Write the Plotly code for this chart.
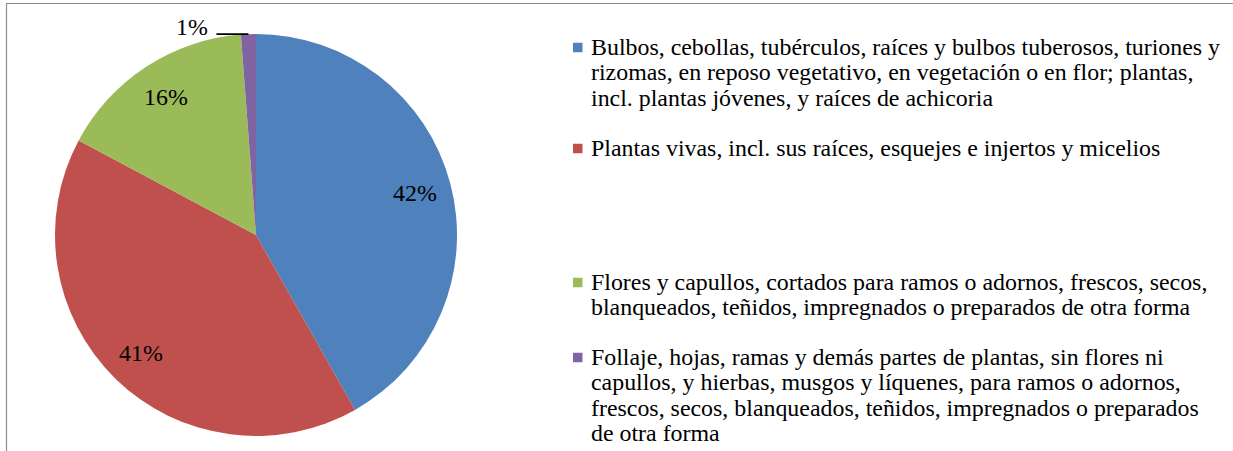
import math
import plotly.graph_objects as go

# ---- data ----
categories = [
    "Bulbos, cebollas, tubérculos, raíces y bulbos tuberosos, turiones y rizomas, en reposo vegetativo, en vegetación o en flor; plantas, incl. plantas jóvenes, y raíces de achicoria",
    "Plantas vivas, incl. sus raíces, esquejes e injertos y micelios",
    "Flores y capullos, cortados para ramos o adornos, frescos, secos, blanqueados, teñidos, impregnados o preparados de otra forma",
    "Follaje, hojas, ramas y demás partes de plantas, sin flores ni capullos, y hierbas, musgos y líquenes, para ramos o adornos, frescos, secos, blanqueados, teñidos, impregnados o preparados de otra forma",
]
values = [41.8, 41.0, 16.0, 1.2]
colors = ["#4F81BD", "#C0504D", "#9BBB59", "#8064A2"]

# legend line breaks (layout only)
legend_lines = [
    ["Bulbos, cebollas, tubérculos, raíces y bulbos tuberosos, turiones y",
     "rizomas, en reposo vegetativo, en vegetación o en flor; plantas,",
     "incl. plantas jóvenes, y raíces de achicoria"],
    ["Plantas vivas, incl. sus raíces, esquejes e injertos y micelios"],
    ["Flores y capullos, cortados para ramos o adornos, frescos, secos,",
     "blanqueados, teñidos, impregnados o preparados de otra forma"],
    ["Follaje, hojas, ramas y demás partes de plantas, sin flores ni",
     "capullos, y hierbas, musgos y líquenes, para ramos o adornos,",
     "frescos, secos, blanqueados, teñidos, impregnados o preparados",
     "de otra forma"],
]

# ---- layout constants (pixels) ----
W, H = 1233, 451
FONT = "Liberation Serif"
FS = 23.9
pie_left, pie_right, pie_top, pie_bottom = 55, 457, 34, 436
cx = (pie_left + pie_right) / 2
cy = (pie_top + pie_bottom) / 2
R = (pie_right - pie_left) / 2
label_frac = 0.82

legend_first_y = [46.5, 147.5, 281.5, 356.5]
line_gap = 25.6
legend_text_x = 590
sq_x0, sq_size = 573, 9.5


def px(x):
    return x / W


def py(y):
    return 1 - y / H


fig = go.Figure(go.Pie(
    labels=categories,
    values=values,
    sort=False,
    direction="clockwise",
    rotation=0,
    marker=dict(colors=colors, line=dict(width=0)),
    textinfo="none",
    hoverinfo="label+percent",
    showlegend=False,
    domain=dict(x=[px(pie_left), px(pie_right)], y=[py(pie_bottom), py(pie_top)]),
))

annotations = []
shapes = []

total = sum(values)
cum = 0.0
for i, v in enumerate(values):
    frac = v / total
    mid = (cum + frac / 2) * 2 * math.pi
    cum += frac
    pct = f"{round(frac * 100)}%"
    if frac > 0.05:
        lx = cx + label_frac * R * math.sin(mid)
        ly = cy - label_frac * R * math.cos(mid)
        annotations.append(dict(x=px(lx), y=py(ly), xref="paper", yref="paper",
                                text=pct, showarrow=False, xanchor="center", yanchor="middle",
                                font=dict(family=FONT, size=FS, color="black")))
    else:
        ex = cx + R * math.sin(mid)
        ey = cy - R * math.cos(mid)
        sx = ex - 32
        shapes.append(dict(type="line", xref="paper", yref="paper",
                           x0=px(sx), x1=px(ex), y0=py(ey), y1=py(ey),
                           line=dict(color="black", width=1.8)))
        annotations.append(dict(x=px(sx - 6), y=py(ey - 7), xref="paper", yref="paper",
                                text=pct, showarrow=False, xanchor="right", yanchor="middle",
                                font=dict(family=FONT, size=FS, color="black")))

# manual legend
for i, lines in enumerate(legend_lines):
    y0 = legend_first_y[i]
    shapes.append(dict(type="rect", xref="paper", yref="paper",
                       x0=px(sq_x0), x1=px(sq_x0 + sq_size),
                       y0=py(y0 - sq_size / 2 + 1), y1=py(y0 + sq_size / 2 + 1),
                       fillcolor=colors[i], line=dict(width=0)))
    for j, line in enumerate(lines):
        annotations.append(dict(x=px(legend_text_x), y=py(y0 + j * line_gap), xref="paper", yref="paper",
                                text=line, showarrow=False, xanchor="left", yanchor="middle",
                                align="left", borderpad=0,
                                font=dict(family=FONT, size=FS, color="black")))

# chart area border (top and left visible)
shapes.append(dict(type="line", xref="paper", yref="paper", x0=px(6), x1=1, y0=py(3.5), y1=py(3.5),
                   line=dict(color="#8C8C8C", width=1.2)))
shapes.append(dict(type="line", xref="paper", yref="paper", x0=px(6.5), x1=px(6.5), y0=py(3.5), y1=0,
                   line=dict(color="#8C8C8C", width=1.2)))

fig.update_layout(
    width=W, height=H,
    margin=dict(l=0, r=0, t=0, b=0),
    paper_bgcolor="white",
    plot_bgcolor="white",
    annotations=annotations,
    shapes=shapes,
    showlegend=False,
)

fig.write_html(
    "out.html",
    config={"displayModeBar": False},
    post_script="document.body.style.margin='0';document.body.style.padding='0';document.body.style.overflow='hidden';",
)
